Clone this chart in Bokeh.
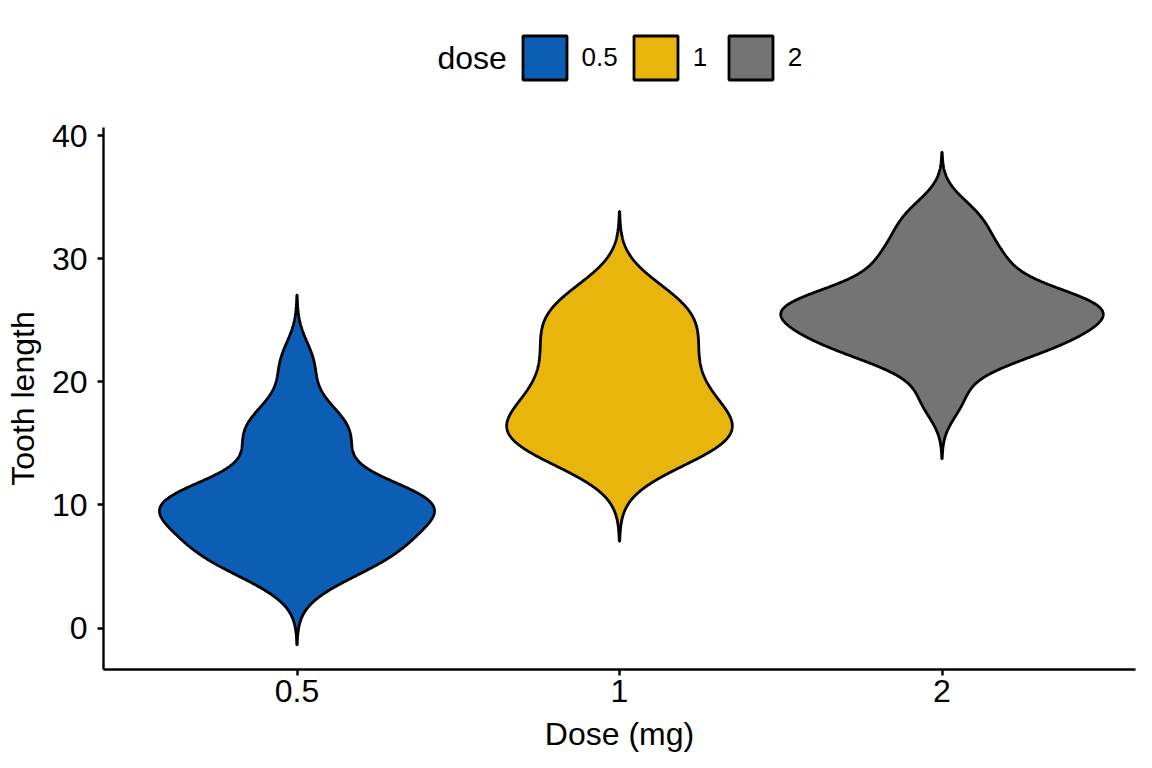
import numpy as np
from bokeh.plotting import figure
from bokeh.layouts import column
from bokeh.models import Range1d, FixedTicker, Legend, LegendItem, Label
from bokeh.embed import file_html
from bokeh.resources import INLINE

# Tooth length (ToothGrowth) grouped by vitamin C dose: VC rows then OJ rows
dose_labels = ["0.5", "1", "2"]
len_05 = [4.2, 11.5, 7.3, 5.8, 6.4, 10.0, 11.2, 11.2, 5.2, 7.0,
          15.2, 21.5, 17.6, 9.7, 14.5, 10.0, 8.2, 9.4, 16.5, 9.7]
len_1 = [16.5, 16.5, 15.2, 17.3, 22.5, 17.3, 13.6, 14.5, 18.8, 15.5,
         19.7, 23.3, 23.6, 26.4, 20.0, 25.2, 25.8, 21.2, 14.5, 27.3]
len_2 = [23.6, 18.5, 33.9, 25.5, 26.4, 32.5, 26.7, 21.5, 23.3, 29.5,
         25.5, 26.4, 22.4, 24.5, 24.8, 30.9, 26.4, 27.3, 29.4, 23.0]
fill_colors = ["#0C5EB5", "#E8B50C", "#747474"]
y_ticks = [0, 10, 20, 30, 40]

FONT = "Liberation Sans"
OUTLINE_W = 2.8
LEGEND_H = 100
FRAME_L, FRAME_R = 103, 1135


def bw_nrd0(x):
    x = np.asarray(x, dtype=float)
    hi = np.std(x, ddof=1)
    q75, q25 = np.percentile(x, [75, 25])
    lo = min(hi, (q75 - q25) / 1.34)
    return 0.9 * lo * len(x) ** (-0.2)


def kde(x, n=512, cut=3.0):
    x = np.asarray(x, dtype=float)
    bw = bw_nrd0(x)
    grid = np.linspace(x.min() - cut * bw, x.max() + cut * bw, n)
    z = (grid[:, None] - x[None, :]) / bw
    dens = np.exp(-0.5 * z ** 2).sum(axis=1) / (len(x) * bw * np.sqrt(2 * np.pi))
    return grid, dens


groups = [len_05, len_1, len_2]
kdes = [kde(g) for g in groups]
max_dens = max(d.max() for _, d in kdes)  # common scale: equal violin areas
violin_width = 1.0

ymin = min(g.min() for g, _ in kdes)
ymax = max(g.max() for g, _ in kdes)
pad = 0.05 * (ymax - ymin)

# ---- main violin plot ----
p = figure(width=1152, height=768 - LEGEND_H,
           x_range=Range1d(0.4, 3.6), y_range=Range1d(ymin - pad, ymax + pad),
           output_backend="svg", toolbar_location=None,
           min_border_left=FRAME_L, min_border_right=1152 - FRAME_R,
           min_border_top=127 - LEGEND_H, min_border_bottom=99)
p.outline_line_color = None
p.xgrid.visible = False
p.ygrid.visible = False
p.background_fill_color = "white"
p.border_fill_color = "white"

for i, ((grid, dens), col) in enumerate(zip(kdes, fill_colors)):
    pos = i + 1
    hw = dens / max_dens * violin_width / 2
    xs = np.concatenate([pos - hw, (pos + hw)[::-1]])
    ys = np.concatenate([grid, grid[::-1]])
    p.patch(xs, ys, fill_color=col, line_color="black", line_width=OUTLINE_W)

for ax in (p.xaxis[0], p.yaxis[0]):
    ax.axis_line_width = 2.4
    ax.axis_line_color = "black"
    ax.major_tick_line_width = 2.4
    ax.major_tick_line_color = "black"
    ax.major_tick_out = 6
    ax.major_tick_in = 0
    ax.minor_tick_line_color = None
    ax.major_label_text_font = FONT
    ax.major_label_text_font_size = "32px"
    ax.major_label_text_color = "black"
    ax.axis_label_text_font = FONT
    ax.axis_label_text_font_size = "32px"
    ax.axis_label_text_font_style = "normal"
    ax.axis_label_text_color = "black"

p.xaxis.ticker = FixedTicker(ticks=[1, 2, 3])
p.xaxis.major_label_overrides = {i + 1: lab for i, lab in enumerate(dose_labels)}
p.xaxis.axis_label = "Dose (mg)"
p.xaxis.major_label_standoff = 4
p.xaxis.axis_label_standoff = 11

p.yaxis.ticker = FixedTicker(ticks=y_ticks)
p.yaxis.axis_label = "Tooth length"
p.yaxis.major_label_standoff = 10
p.yaxis.axis_label_standoff = 8

# ---- legend strip above the plot (its frame is aligned with the plot's frame) ----
lg = figure(width=1152, height=LEGEND_H,
            x_range=Range1d(FRAME_L, FRAME_R), y_range=Range1d(0, LEGEND_H),
            output_backend="svg", toolbar_location=None,
            x_axis_location=None, y_axis_location=None,
            min_border_left=FRAME_L, min_border_right=1152 - FRAME_R,
            min_border_top=0, min_border_bottom=0)
lg.grid.visible = False
lg.outline_line_color = None
lg.background_fill_color = "white"
lg.border_fill_color = "white"

items = []
for lab, col in zip(dose_labels, fill_colors):
    # key glyphs only; the shape itself sits outside the visible strip
    r = lg.patch([-50, -40, -40], [-50, -50, -40], fill_color=col,
                 line_color="black", line_width=OUTLINE_W)
    items.append(LegendItem(label=lab, renderers=[r]))

# area keys are drawn at 80% of the glyph box, so a 55px box gives a 44px key
legend = Legend(items=items, orientation="horizontal", location=(516.5 - FRAME_L, 15.5),
                glyph_width=55, glyph_height=55, label_standoff=10, spacing=10,
                padding=0, margin=0, border_line_color=None,
                background_fill_alpha=0,
                label_text_font=FONT, label_text_font_size="26px",
                label_text_color="black")
lg.add_layout(legend, "center")
lg.add_layout(Label(x=437, y=LEGEND_H - 57, text="dose", text_baseline="middle",
                    text_font=FONT, text_font_size="32px", text_color="black"))

layout = column(lg, p, spacing=0)
open("out.html", "w").write(file_html(layout, INLINE))
